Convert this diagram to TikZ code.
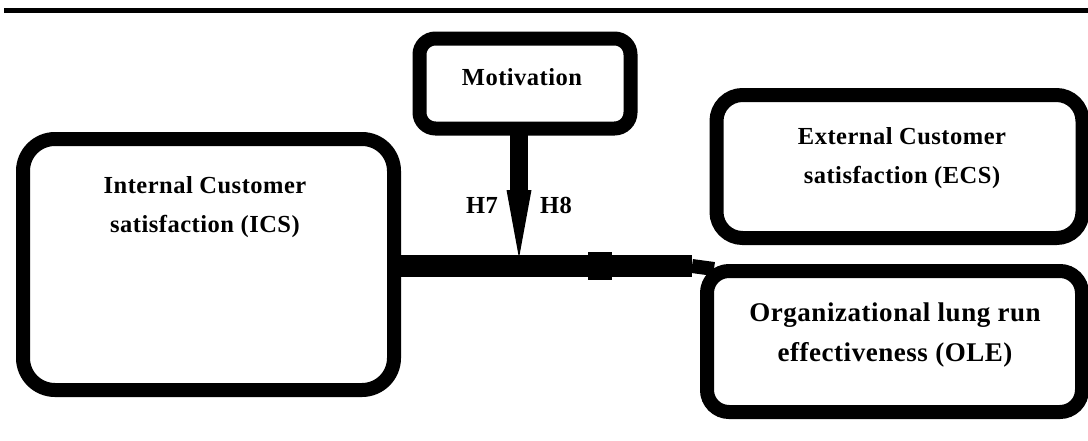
\documentclass[tikz,border=0pt]{standalone}
\usepackage{fontspec}
\setmainfont{Liberation Serif}
\newfontfamily\labelfont[LetterSpace=2]{Liberation Serif}
\begin{document}
\begin{tikzpicture}[x=1pt,y=-1pt,
  box/.style={draw=black, line width=14pt, rounded corners=#1, inner sep=0pt, outer sep=0pt},
  box/.default=20pt,
  lbl/.style={font=\labelfont\bfseries\fontsize{24.5}{39}\selectfont, align=center, inner sep=0pt},
  biglbl/.style={font=\labelfont\bfseries\fontsize{27}{40}\selectfont, align=center, inner sep=0pt},
  link/.style={draw=black, line width=22pt},
]
\useasboundingbox (0,0) rectangle (1088,440);

% rule across the top
\draw[line width=5.5pt] (4,10.5) -- (1090,10.5);

% boxes
\node[box=32pt, minimum width=371pt, minimum height=251pt] (ics) at (208.5,264.5) {};
\node[box=16pt, minimum width=211pt, minimum height=90pt] (mot) at (525,83.5) {};
\node[box=26pt, minimum width=366pt, minimum height=143pt] (ecs) at (899.5,166.5) {};
\node[box=22pt, minimum width=375pt, minimum height=141pt] (ole) at (894.5,341.5) {};

% labels
\node[lbl] (icstext) at (205,207) {Internal Customer\\satisfaction (ICS)};
\node[lbl] (mottext) at (522,77) {Motivation};
\node[lbl] (ecstext) at (902,158) {External Customer\\satisfaction (ECS)};
\node[biglbl] (oletext) at (895,335) {Organizational lung run\\effectiveness (OLE)};
\node[lbl] (h7) at (482,205) {H7};
\node[lbl] (h8) at (556,205) {H8};

% moderating arrow from Motivation down to the main path
\coordinate (stemend) at (519,194);
\coordinate (junction) at (519,258);
\draw[line width=18pt] (mot.south -| stemend) -- (stemend);
\fill (506.5,190) -- (531.5,190) -- (junction) -- cycle;

% main path ICS -> OLE
\coordinate (bend) at (692,266);
\coordinate (oletop) at (714,269);
\draw[link] (ics.east |- bend) -- (bend);
\draw[line width=14pt] (bend) -- (oletop);
\fill (588,252) rectangle (612,280);
\end{tikzpicture}
\end{document}
